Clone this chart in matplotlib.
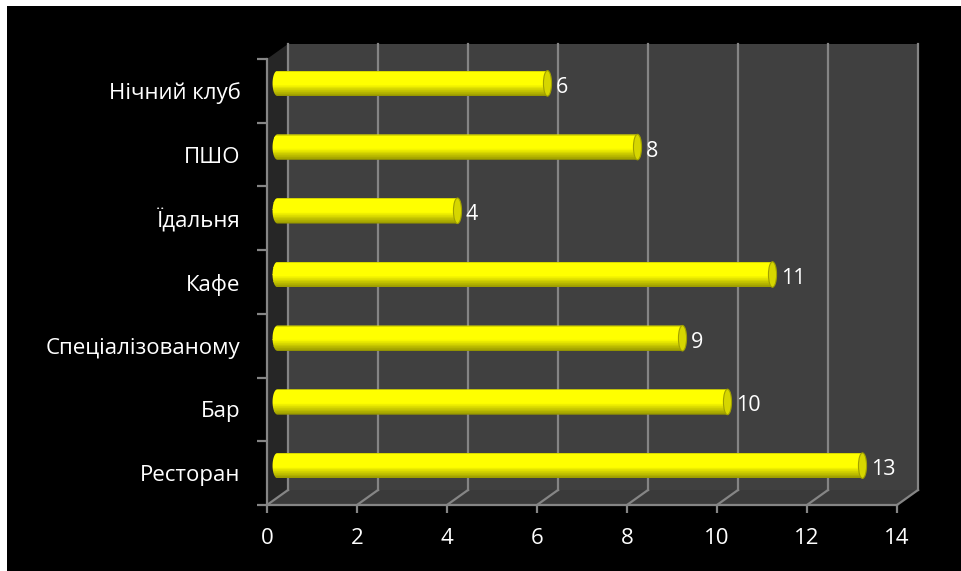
import numpy as np
import matplotlib
matplotlib.use("Agg")
import matplotlib.pyplot as plt
from matplotlib.patches import Rectangle, Polygon, Ellipse, PathPatch
from matplotlib.path import Path
from matplotlib.transforms import ScaledTranslation

categories = ["Ресторан", "Бар", "Спеціалізованому", "Кафе", "Їдальня", "ПШО", "Нічний клуб"]
values = [13, 10, 9, 11, 4, 8, 6]
x_ticks = [0, 2, 4, 6, 8, 10, 12, 14]

plt.rcParams["font.family"] = ["Open Sans", "DejaVu Sans"]

DPI = 100
fig = plt.figure(figsize=(9.61, 5.71), dpi=DPI, facecolor="white")
# black slide area inside the thin white border
fig.patches.append(Rectangle((7 / 961, 0), 1, 565 / 571, transform=fig.transFigure,
                             facecolor="black", edgecolor="none", zorder=-10))

ax = fig.add_axes([267 / 961, 66 / 571, 630 / 961, 446 / 571])
ax.set_xlim(0, 14)
ax.set_ylim(-0.5, len(categories) - 0.5)
ax.patch.set_visible(False)

# 3d depth of the plot box (in inches) and the same in axes fractions
depth = (0.21, 0.15)
pos = ax.get_position()
ddx = depth[0] / (pos.width * fig.get_figwidth())
ddy = depth[1] / (pos.height * fig.get_figheight())

back = ax.transData + ScaledTranslation(depth[0], depth[1], fig.dpi_scale_trans)
mid = ax.transData + ScaledTranslation(depth[0] / 2, depth[1] / 2, fig.dpi_scale_trans)

grid_c = "#858585"
# back wall, side wall, floor
ax.add_patch(Polygon([(ddx, ddy), (1 + ddx, ddy), (1 + ddx, 1 + ddy), (ddx, 1 + ddy)],
                     closed=True, transform=ax.transAxes, facecolor="#404040",
                     edgecolor="none", clip_on=False, zorder=0))
ax.add_patch(Polygon([(0, 0), (0, 1), (ddx, 1 + ddy), (ddx, ddy)], closed=True,
                     transform=ax.transAxes, facecolor="#262626", edgecolor="none",
                     clip_on=False, zorder=0.5))
ax.add_patch(Polygon([(0, 0), (1, 0), (1 + ddx, ddy), (ddx, ddy)], closed=True,
                     transform=ax.transAxes, facecolor="#3a3a3a", edgecolor="none",
                     clip_on=False, zorder=0.5))

ylo, yhi = ax.get_ylim()
for xt in x_ticks:
    ax.plot([xt, xt], [ylo, yhi], color=grid_c, lw=1.6, transform=back,
            clip_on=False, zorder=1)
    fx = xt / 14
    ax.plot([fx, fx + ddx], [0, ddy], color=grid_c, lw=1.6, transform=ax.transAxes,
            clip_on=False, zorder=1)

# cylinder bars: shaded strips clipped to a capsule outline
bar_h = 0.4
cap_l = 0.22  # width of the rounded back end
cap_r = 0.18  # width of the visible end cap
n_strips = 40
t = (np.arange(n_strips) + 0.5) / n_strips
top_c = np.array([1.0, 1.0, 0.0])
dark_c = np.array([0.58, 0.58, 0.0])
shade = np.where(t < 0.55, 0.0, (t - 0.55) / 0.45)
strip_colors = top_c[None, :] * (1 - shade[:, None]) + dark_c[None, :] * shade[:, None]
strip_colors[t < 0.06] = [0.85, 0.85, 0.0]

ang_l = np.linspace(np.pi / 2, 3 * np.pi / 2, 40)
ang_r = np.linspace(-np.pi / 2, np.pi / 2, 40)
for i, v in enumerate(values):
    left = np.column_stack([cap_l / 2 * np.cos(ang_l), i + bar_h / 2 * np.sin(ang_l)])
    right = np.column_stack([v + cap_r / 2 * np.cos(ang_r), i + bar_h / 2 * np.sin(ang_r)])
    outline = PathPatch(Path(np.vstack([left, right, left[:1]]), closed=True),
                        transform=mid, facecolor="none", edgecolor="none")
    ax.add_patch(outline)
    ys = i + bar_h / 2 - t * bar_h
    bars = ax.barh(ys, width=v + cap_l, left=-cap_l, height=bar_h / n_strips * 1.05,
                   color=strip_colors, transform=mid, zorder=3, linewidth=0)
    for r in bars:
        r.set_clip_path(outline)
    ax.add_patch(Ellipse((v, i), cap_r, bar_h, transform=mid, facecolor="#d6d600",
                         edgecolor="#a0a000", lw=0.8, zorder=4, clip_on=False))
    lab = mid + ScaledTranslation(0.085, -0.04, fig.dpi_scale_trans)
    ax.text(v, i, str(v), transform=lab, color="white", fontsize=15.5,
            ha="left", va="center", zorder=5, clip_on=False)

# axes, ticks and labels
for s in ["top", "right"]:
    ax.spines[s].set_visible(False)
for s in ["left", "bottom"]:
    ax.spines[s].set_color(grid_c)
    ax.spines[s].set_linewidth(1.6)
    ax.spines[s].set_zorder(2)

ax.set_xticks(x_ticks)
ax.set_xticklabels([str(x) for x in x_ticks])
ax.tick_params(axis="x", colors=grid_c, labelcolor="white", labelsize=16,
               length=5.8, width=1.6, pad=11)

ax.set_yticks(range(len(categories)))
ax.set_yticklabels(categories)
ax.set_yticks(np.arange(-0.5, len(categories)), minor=True)
ax.tick_params(axis="y", which="major", length=0, labelcolor="white", labelsize=16, pad=19)
ax.tick_params(axis="y", which="minor", length=7.2, width=1.6, colors=grid_c)

fig.savefig("out.png", dpi=DPI, facecolor=fig.get_facecolor())
